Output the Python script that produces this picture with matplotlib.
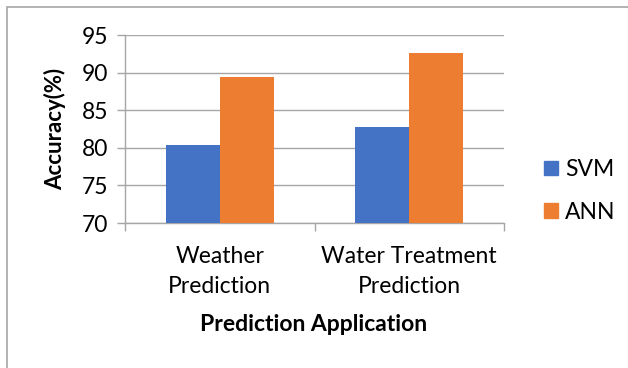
import matplotlib
matplotlib.use("Agg")
import matplotlib.pyplot as plt
import numpy as np
from matplotlib.patches import Rectangle, Patch

plt.rcParams['font.family'] = ['Lato', 'DejaVu Sans']

categories = ["Weather\nPrediction", "Water Treatment\nPrediction"]
svm_acc = [80.4, 82.7]
ann_acc = [89.4, 92.6]
series_names = ["SVM", "ANN"]
y_ticks = [70, 75, 80, 85, 90, 95]

blue = "#4472C4"
orange = "#ED7D31"
gray = "#a6a6a6"

W, H = 628, 368
fig = plt.figure(figsize=(W / 100, H / 100), dpi=100)

# outer chart border (runs off right and bottom edges)
fig.patches.append(Rectangle((6.5 / W, -0.1), 1.2, (H - 6.5) / H + 0.1,
                             transform=fig.transFigure, fill=False,
                             edgecolor=gray, linewidth=1.2))

ax = fig.add_axes([125 / W, (H - 223) / H, 379 / W, 188 / H])

x = np.arange(len(categories))
bw = 0.285
ax.bar(x - bw / 2, svm_acc, bw, color=blue, zorder=3)
ax.bar(x + bw / 2, ann_acc, bw, color=orange, zorder=3)

ax.set_xlim(-0.5, len(categories) - 0.5)
ax.set_ylim(y_ticks[0], y_ticks[-1])
ax.set_yticks(y_ticks)
ax.yaxis.grid(True, color=gray, linewidth=1.0, zorder=0)
ax.set_axisbelow(True)

for s in ["top", "right"]:
    ax.spines[s].set_visible(False)
for s in ["left", "bottom"]:
    ax.spines[s].set_color(gray)
    ax.spines[s].set_linewidth(1.0)

ax.tick_params(axis="y", length=6, width=1.0, color=gray, pad=6,
               labelsize=16.5, labelcolor="black")
ax.set_xticks(x)
ax.set_xticklabels(categories, fontsize=16.5, linespacing=1.55)
ax.tick_params(axis="x", which="major", length=0, pad=16.5)
ax.set_xticks(np.arange(-0.5, len(categories)), minor=True)
ax.tick_params(axis="x", which="minor", length=6, width=1.0, color=gray)

fig.text(55 / W, (H - 129) / H, "Accuracy(%)", rotation=90, ha="center",
         va="center", fontsize=16, fontweight="bold")
fig.text(314 / W, (H - 331) / H, "Prediction Application", ha="center",
         va="baseline", fontsize=16.5, fontweight="bold")

handles = [Patch(color=blue), Patch(color=orange)]
fig.legend(handles, series_names, loc="upper left",
           bbox_to_anchor=(544 / W, (H - 159) / H), frameon=False,
           fontsize=16.5, handlelength=0.62, handleheight=0.62,
           handletextpad=0.3, labelspacing=0.95, borderpad=0,
           borderaxespad=0)

fig.savefig("out.png", dpi=100)
